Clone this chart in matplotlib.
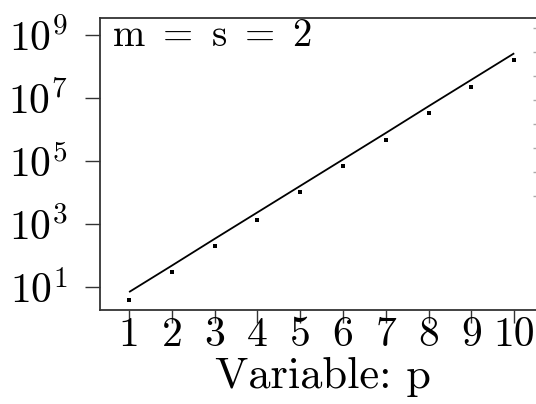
import numpy as np
import matplotlib
matplotlib.use("Agg")
import matplotlib.pyplot as plt
from matplotlib.ticker import FixedLocator, FixedFormatter, NullLocator

# ── Style: Computer Modern look ────────────────────────────────────────────
plt.rcParams['font.family'] = ['cmr10', 'DejaVu Serif']
plt.rcParams['mathtext.fontset'] = 'cm'
plt.rcParams['axes.unicode_minus'] = False

# ── Data ───────────────────────────────────────────────────────────────────
p_vals   = [1, 2, 3, 4, 5, 6, 7, 8, 9, 10]
# measured values (log10)
log_meas = [0.59, 1.47, 2.30, 3.13, 4.03, 4.83, 5.68, 6.52, 7.35, 8.21]
# fitted trend (log10)
log_fit  = [0.84, 1.68, 2.53, 3.37, 4.21, 5.05, 5.89, 6.74, 7.58, 8.42]

ytick_vals   = [1e1, 1e3, 1e5, 1e7, 1e9]
ytick_labels = [r'$10^{1}$', r'$10^{3}$', r'$10^{5}$', r'$10^{7}$', r'$10^{9}$']
xtick_vals   = p_vals
xtick_labels = [str(v) for v in p_vals]

# neighbouring panel's tick marks (just visible at the right border)
nb_ticks = [0, 1, 2, 3, 4, 5, 6, 7]

meas = 10.0 ** np.array(log_meas)
fit  = 10.0 ** np.array(log_fit)

# ── Figure ─────────────────────────────────────────────────────────────────
W, H = 536, 404
fig = plt.figure(figsize=(W / 100, H / 100), dpi=100)

left, right, top, bottom = 100, 560, 18, 310
ax = fig.add_axes([left / W, 1 - bottom / H, (right - left) / W, (bottom - top) / H])

ax.plot(p_vals, fit, color='black', lw=1.3, solid_capstyle='butt')
ax.plot(p_vals, meas, ls='none', marker='s', ms=2.6, color='black', mew=0)

ax.set_yscale('log')
ax.set_xlim(0.32, 11.07)
ax.set_ylim(10 ** 0.27, 10 ** 9.54)

ax.yaxis.set_major_locator(FixedLocator(ytick_vals))
ax.yaxis.set_major_formatter(FixedFormatter(ytick_labels))
ax.yaxis.set_minor_locator(NullLocator())
ax.xaxis.set_major_locator(FixedLocator(xtick_vals))
ax.xaxis.set_major_formatter(FixedFormatter(xtick_labels))

ax.tick_params(axis='y', direction='out', length=11, width=1.0, pad=12,
               labelsize=30, color='#333333')
ax.tick_params(axis='x', direction='out', length=9, width=1.0, pad=-4,
               labelsize=30, color='#333333')

for s in ax.spines.values():
    s.set_linewidth(1.3)
    s.set_color('#333333')

ax.set_xlabel('Variable: p', fontsize=32)
ax.xaxis.set_label_coords((323 - left) / (right - left), -0.16)

ax.text(0.026, 0.905, r'$\mathrm{m\ =\ s\ =\ 2}$', transform=ax.transAxes,
        fontsize=28, va='baseline', ha='left')

# right border: ticks of the adjacent panel
ax2 = fig.add_axes([539 / W, 1 - 210 / H, 0.05, (210 - 18) / H])
ax2.set_ylim(-0.42, 7.6)
ax2.invert_yaxis()
ax2.patch.set_visible(False)
for s in ax2.spines.values():
    s.set_visible(False)
ax2.xaxis.set_major_locator(NullLocator())
ax2.yaxis.set_major_locator(FixedLocator(nb_ticks))
ax2.yaxis.set_major_formatter(FixedFormatter([''] * len(nb_ticks)))
ax2.tick_params(axis='y', direction='out', length=4, width=1.0, color='#aaaaaa')

fig.savefig('out.png', dpi=100)
